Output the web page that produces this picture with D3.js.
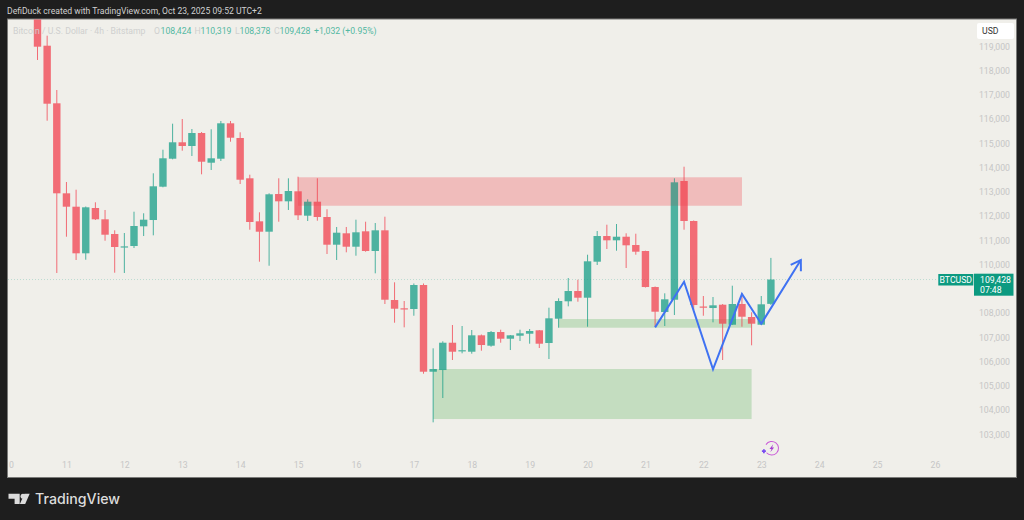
<!DOCTYPE html>
<html>
<head>
<meta charset="utf-8">
<style>
html,body{margin:0;padding:0;background:#1e1e1e;}
svg{display:block;}
text{font-family:Roboto,"Open Sans",sans-serif;}
</style>
<script src="https://cdn.jsdelivr.net/npm/d3@7/dist/d3.min.js"></script>
</head>
<body>
<svg id="chart" width="1024" height="520"></svg>
<script>
// BTC/USD 4h candles, oldest first
const opens = [120300,119070,116695,112983,112431,110509,112377,111911,111305,110790,110810,111622,111882,113256,114410,115087,114934,115470,114245,114410,115870,115264,113602,111828,111400,112954,112653,113066,112060,112637,112006,110864,111334,110781,111416,110604,111457,108583,108241,108212,109202,105626,105696,106822,106472,106451,107127,106699,107263,106987,107111,107193,107334,106810,107812,108530,108954,108678,110163,111222,111045,111193,110851,110604,109119,108088,108595,113491,111841,108315,108253,108389,107564,108418,107882,107564,108424];
const highs = [120700,119483,117243,113449,113132,112439,112612,112295,111458,111346,112224,112159,113808,114781,115854,116047,115635,115511,115623,115965,115965,115499,113750,112200,112983,113602,113602,113668,112736,113602,112324,111594,111594,111895,111812,111758,112018,109313,108542,109264,109264,106591,106880,107552,107511,107346,107160,107305,107358,107140,107358,107387,107346,108266,108653,109490,109420,110451,111428,111688,111717,111334,111317,110616,109140,108859,113602,114080,111862,108748,108707,108418,109173,108872,108076,108748,110319];
const lows = [118481,115977,109697,111193,110233,110245,111882,111028,109709,109697,110727,111222,111251,113231,114385,114740,114522,113767,113944,114315,115111,113367,111482,110163,109997,111812,112295,111882,111841,111853,110480,110233,110550,110410,110575,109684,108418,107647,107457,107935,105544,103539,104542,106109,106385,106369,106492,106657,106822,106521,106892,106781,106604,106150,107441,108323,108513,107482,110027,110686,110616,109903,110451,109099,107482,107511,107964,111482,108171,107935,107664,106109,107552,107482,106715,107552,108378];
const closes = [119029,116678,112983,112431,110509,112406,111911,111276,110769,110795,111635,111895,113272,114427,115087,114934,115470,114286,114427,115870,115276,113544,111800,111400,112942,112653,113078,112076,112637,112006,110864,111359,110781,111375,110604,111457,108595,108224,108200,109202,105626,105737,106822,106451,106513,107127,106727,107263,106987,107127,107210,107305,106781,107828,108542,108954,108678,110179,111222,111045,111193,110839,110575,109119,108101,108612,113437,111841,108377,108265,108364,107606,108418,107894,107606,108406,109428];

// Axis labels
const priceTicks = [119000,118000,117000,116000,115000,114000,113000,112000,111000,110000,108000,107000,106000,105000,104000,103000];
const dayLabels = [10,11,12,13,14,15,16,17,18,19,20,21,22,23,24,25,26];
const barsPerDay = 6;
const firstBarOfDay11 = 3;

// Supply and demand zones, in bar index and price
const zoneStart = [27,41,54];
const zoneEnd = [73,74,74];
const zoneTop = [113643,105737,107799];
const zoneBottom = [112472,103675,107441];
const zoneColor = ["rgba(244,70,80,.24)","rgba(76,175,80,.27)","rgba(76,175,80,.27)"];
const zoneVeil = ["rgba(244,70,80,.08)","rgba(76,175,80,0)","rgba(76,175,80,0)"];

// Projected path drawn on the chart
const pathBars = [64,67,70,73,75,79.1];
const pathPrices = [107454,109337,105725,108830,107606,110233];

const lastPrice = 109428;
const UP = "#089981", DOWN = "#f23645", BADGE = "#0c9a80", LEGEND_UP = "#53b8a2";

const frame = {left:8, top:19.5, right:1016, bottom:477};
const x = d3.scaleLinear().domain([0,76]).range([37.5,770.9]);
const y = d3.scaleLinear().domain([119000,103000]).range([47.4,435.4]);
const bars = d3.range(closes.length);
const bodyW = 7.4;

const svg = d3.select("#chart");
svg.append("rect").attr("width",1024).attr("height",520).attr("fill","#1e1e1e");
svg.append("rect").attr("x",frame.left-.5).attr("y",frame.top-.5)
  .attr("width",frame.right-frame.left+1).attr("height",frame.bottom-frame.top+1)
  .attr("fill","#f0efea").attr("stroke","#7a7a78").attr("stroke-width",1);

const defs = svg.append("defs");
defs.append("clipPath").attr("id","pane").append("rect")
  .attr("x",frame.left).attr("y",frame.top)
  .attr("width",frame.right-frame.left).attr("height",frame.bottom-frame.top);
defs.append("marker").attr("id","head").attr("markerUnits","userSpaceOnUse")
  .attr("viewBox","-14 -8 16 16").attr("markerWidth",16).attr("markerHeight",16)
  .attr("orient","auto").attr("refX",0).attr("refY",0)
  .append("path").attr("d","M-9.5,-6 L0,0 L-9.5,6")
  .attr("fill","none").attr("stroke","#3f72f2").attr("stroke-width",2);

const pane = svg.append("g").attr("clip-path","url(#pane)");

// Last price line
pane.append("line").attr("x1",frame.left).attr("x2",938)
  .attr("y1",y(lastPrice)).attr("y2",y(lastPrice))
  .attr("stroke","#0c9a80").attr("stroke-opacity",.22).attr("stroke-dasharray","1 2");

function drawZones(cls, colors) {
  pane.selectAll("rect."+cls).data(zoneStart).join("rect").attr("class",cls)
    .attr("x",(d,k)=>x(zoneStart[k]))
    .attr("width",(d,k)=>x(zoneEnd[k])-x(zoneStart[k]))
    .attr("y",(d,k)=>y(zoneTop[k]))
    .attr("height",(d,k)=>y(zoneBottom[k])-y(zoneTop[k]))
    .attr("fill",(d,k)=>colors[k]);
}

// Zones sit under the translucent candles, with a faint veil on top
drawZones("zone", zoneColor);

// Candles: wick and body per bar
const candle = pane.selectAll("g.candle").data(bars).join("g").attr("class","candle").attr("opacity",.7);
candle.append("line")
  .attr("x1",i=>x(i)).attr("x2",i=>x(i))
  .attr("y1",i=>y(highs[i])).attr("y2",i=>y(lows[i]))
  .attr("stroke",i=>closes[i]>=opens[i]?UP:DOWN).attr("stroke-width",1);
candle.append("rect")
  .attr("x",i=>x(i)-bodyW/2).attr("width",bodyW)
  .attr("y",i=>y(Math.max(opens[i],closes[i])))
  .attr("height",i=>Math.max(1.2,Math.abs(y(opens[i])-y(closes[i]))))
  .attr("fill",i=>closes[i]>=opens[i]?UP:DOWN);

drawZones("zone-veil", zoneVeil);

// Projected route with arrow head
const route = d3.line().x(k=>x(pathBars[k])).y(k=>y(pathPrices[k]));
pane.append("path").attr("d",route(d3.range(pathBars.length)))
  .attr("fill","none").attr("stroke","#3f72f2").attr("stroke-width",2)
  .attr("stroke-linejoin","miter").attr("marker-end","url(#head)");

// Price axis
const yAxis = svg.append("g").attr("transform","translate(1010,-1)")
  .call(d3.axisLeft(y).tickValues(priceTicks).tickFormat(d3.format(",")).tickSize(0).tickPadding(0));
yAxis.select(".domain").remove();
yAxis.selectAll("text").attr("fill","#c6c6c6").style("font-size","8.7px").style("font-family","Roboto,sans-serif");

// Time axis
defs.append("clipPath").attr("id","axisClip").append("rect")
  .attr("x",frame.left).attr("y",-5).attr("width",frame.right-frame.left).attr("height",25);
const xAxis = svg.append("g").attr("transform","translate(0,462)").attr("clip-path","url(#axisClip)")
  .call(d3.axisBottom(x)
    .tickValues(dayLabels.map(d=>(d-11)*barsPerDay+firstBarOfDay11))
    .tickFormat(i=>(i-firstBarOfDay11)/barsPerDay+11).tickSize(0).tickPadding(0));
xAxis.select(".domain").remove();
xAxis.selectAll("text").attr("fill","#c6c6c6").style("font-size","8.7px").style("font-family","Roboto,sans-serif");

// Currency badge
svg.append("rect").attr("x",977).attr("y",23).attr("width",37).attr("height",16).attr("rx",2).attr("fill","#fff");
svg.append("text").attr("x",982).attr("y",34).attr("fill","#333").style("font-size","8.7px").text("USD");

// Last price badges
svg.append("rect").attr("x",938.3).attr("y",274).attr("width",35).attr("height",11.5).attr("fill",BADGE);
svg.append("text").attr("x",955.8).attr("y",283).attr("text-anchor","middle").attr("fill","#fff").style("font-size","8.7px").text("BTCUSD");
svg.append("rect").attr("x",974).attr("y",273.7).attr("width",39.5).attr("height",22).attr("fill",BADGE);
svg.append("text").attr("x",980).attr("y",283).attr("fill","#fff").style("font-size","8.7px").text(d3.format(",")(lastPrice));
svg.append("text").attr("x",980).attr("y",293).attr("fill","#fff").style("font-size","8.7px").text("07:48");

// Header line
svg.append("text").attr("x",7).attr("y",14.2).attr("fill","#d0d0d0").style("font-size","8.6px")
  .text("DefiDuck created with TradingView.com, Oct 23, 2025 09:52 UTC+2");

// Instrument legend
const legendItems = [
  {x:13,c:"#cfcfcf",t:"Bitcoin / U.S. Dollar · 4h · Bitstamp"},
  {x:154,c:"#cfcfcf",t:"O"},{x:160.5,c:LEGEND_UP,t:"108,424"},
  {x:194.5,c:"#cfcfcf",t:"H"},{x:200.5,c:LEGEND_UP,t:"110,319"},
  {x:235,c:"#cfcfcf",t:"L"},{x:239.5,c:LEGEND_UP,t:"108,378"},
  {x:274,c:"#cfcfcf",t:"C"},{x:279.5,c:LEGEND_UP,t:"109,428"},
  {x:314,c:LEGEND_UP,t:"+1,032 (+0.95%)"}
];
svg.append("g").selectAll("text").data(legendItems).join("text")
  .attr("x",d=>d.x).attr("y",33.5).attr("fill",d=>d.c).style("font-size","8.7px").text(d=>d.t);

// Replay badge near the latest bar
const badge = svg.append("g").attr("transform","translate(771.7,448.3)");
badge.append("path").attr("d",d3.arc()({innerRadius:6.3,outerRadius:7.3,startAngle:-1.0,endAngle:4.0}))
  .attr("fill","#c95ad8");
badge.append("path").attr("d","M1.5,-4 L-2.2,0.6 L-0.2,0.6 L-1.4,4 L2.4,-0.8 L0.4,-0.8 Z").attr("fill","#a63fd0");
badge.append("path").attr("d","M-9.8,2.9 h4 M-7.8,0.9 v4").attr("stroke","#7a4df0").attr("stroke-width",1.8);

// Brand mark and wordmark in the footer
const brand = svg.append("g").attr("fill","#dcdcdc");
brand.append("path").attr("d","M8.5,493.7 H19.7 V504 H14.6 V498.8 H8.5 Z");
brand.append("circle").attr("cx",23).attr("cy",496.2).attr("r",2.5);
brand.append("path").attr("d","M24.4,493.7 H29.7 L25.2,504 H19.9 Z");
brand.append("text").attr("x",35).attr("y",504).attr("fill","#dcdcdc")
  .style("font-family","Inter,Roboto,sans-serif").style("font-size","14.2px").style("font-weight","500").text("TradingView");
</script>
</body>
</html>
